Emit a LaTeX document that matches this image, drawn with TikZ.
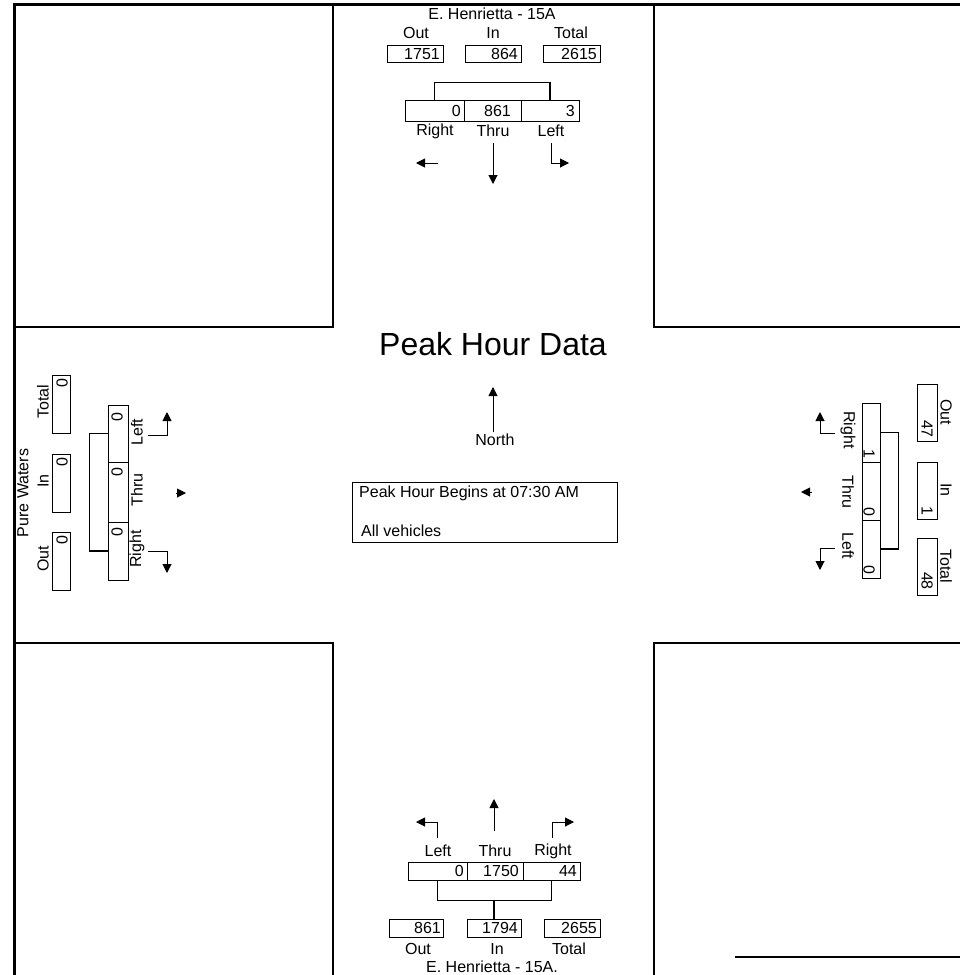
\documentclass[tikz,border=0pt]{standalone}
\usepackage{fontspec}
\setmainfont{Liberation Sans}
\usetikzlibrary{arrows.meta}
\begin{document}
\begin{tikzpicture}[x=1pt,y=-1pt,
  lbl/.style={font=\fontsize{16}{18}\selectfont, inner sep=0pt},
  big/.style={font=\fontsize{32}{36}\selectfont, inner sep=0pt},
  bx/.style={draw, line width=1pt, inner sep=0pt},
  road/.style={line width=1.2pt},
  frm/.style={line width=3pt},
  arr/.style={line width=1pt, -{Triangle[width=9pt,length=9pt]}}]
\useasboundingbox (0,0) rectangle (960,975);
% frame
\draw[frm] (14,975) -- (14,4) -- (960,4);
\draw[road] (735,957) -- (960,957);
% roads
\draw[road] (14,327) -- (333,327) -- (333,4);
\draw[road] (654,4) -- (654,327) -- (960,327);
\draw[road] (14,643) -- (333,643) -- (333,975);
\draw[road] (654,975) -- (654,643) -- (960,643);

% ===== North approach =====
\node[lbl] (tname) at (492,14) {E. Henrietta - 15A};
\node[lbl] (tOutL) at (416,33) {Out};
\node[lbl] (tInL) at (493,33) {In};
\node[lbl] (tTotL) at (571,33) {Total};
\node[bx, minimum width=56pt, minimum height=17pt] (tOut) at (415,53.5) {};
\node[bx, minimum width=56pt, minimum height=17pt] (tIn) at (493,53.5) {};
\node[bx, minimum width=57pt, minimum height=17pt] (tTot) at (571.5,53.5) {};
\node[lbl, anchor=east] (tOutN) at (440,54) {1751};
\node[lbl, anchor=east] (tInN) at (518,54) {864};
\node[lbl, anchor=east] (tTotN) at (597,54) {2615};
\node[bx, minimum width=59pt, minimum height=21pt] (tR) at (434.5,110.5) {};
\node[bx, minimum width=57pt, minimum height=21pt] (tT) at (492.5,110.5) {};
\node[bx, minimum width=58pt, minimum height=21pt] (tLf) at (550,110.5) {};
\node[lbl, anchor=east] (tRN) at (461,111) {0};
\node[lbl, anchor=east] (tTN) at (511,111) {861};
\node[lbl, anchor=east] (tLN) at (575,111) {3};
\node[lbl] (tRL) at (435,131) {Right};
\node[lbl] (tTL) at (493,131) {Thru};
\node[lbl] (tLL) at (551,131) {Left};
\draw[road] (tR.north) -- ++(0,-17) -| (tLf.north);
\coordinate (tRa1) at (438,163); \coordinate (tRa2) at (416,163);
\draw[arr] (tRa1) -- (tRa2);
\coordinate (tTa1) at (493,143); \coordinate (tTa2) at (493,184);
\draw[arr] (tTa1) -- (tTa2);
\coordinate (tLa1) at (551,143); \coordinate (tLa2) at (569,163);
\draw[arr] (tLa1) |- (tLa2);

% ===== South approach =====
\coordinate (bTa1) at (494,831); \coordinate (bTa2) at (494,799);
\draw[arr] (bTa1) -- (bTa2);
\coordinate (bLa1) at (437,838); \coordinate (bLa2) at (416,822);
\draw[arr] (bLa1) |- (bLa2);
\coordinate (bRa1) at (552,838); \coordinate (bRa2) at (574,822);
\draw[arr] (bRa1) |- (bRa2);
\node[lbl] (bLL) at (438,851) {Left};
\node[lbl] (bTL) at (495,851) {Thru};
\node[lbl] (bRL) at (553,851) {Right};
\node[bx, minimum width=59pt, minimum height=18pt] (bL) at (437.5,871) {};
\node[bx, minimum width=56pt, minimum height=18pt] (bT) at (495,871) {};
\node[bx, minimum width=57pt, minimum height=18pt] (bRt) at (551.5,871) {};
\node[lbl, anchor=east] (bLN) at (464,871) {0};
\node[lbl, anchor=east] (bTN) at (519,871) {1750};
\node[lbl, anchor=east] (bRN) at (577,871) {44};
\node[bx, minimum width=54pt, minimum height=18pt] (bOut) at (416,928) {};
\node[bx, minimum width=54pt, minimum height=18pt] (bIn) at (494,928) {};
\node[bx, minimum width=56pt, minimum height=18pt] (bTot) at (572,928) {};
\draw[road] (bL.south) -- ++(0,20) coordinate (bbr) -| (bRt.south);
\draw[road] (bIn.north) -- (bIn.north |- bbr);
\node[lbl, anchor=east] (bOutN) at (441,928) {861};
\node[lbl, anchor=east] (bInN) at (518,928) {1794};
\node[lbl, anchor=east] (bTotN) at (597,928) {2655};
\node[lbl] (bOutL) at (418,949) {Out};
\node[lbl] (bInL) at (497,949) {In};
\node[lbl] (bTotL) at (569,949) {Total};
\node[lbl] (bname) at (492,967) {E. Henrietta - 15A.};

% ===== West approach =====
\node[lbl, rotate=90] (wname) at (23,493) {Pure Waters};
\node[lbl, rotate=90] (wTotL) at (43,402) {Total};
\node[lbl, rotate=90] (wInL) at (43,481) {In};
\node[lbl, rotate=90] (wOutL) at (43,559) {Out};
\node[bx, minimum width=18pt, minimum height=58pt] (wTot) at (61,404) {};
\node[bx, minimum width=18pt, minimum height=58pt] (wIn) at (61,483) {};
\node[bx, minimum width=18pt, minimum height=58pt] (wOut) at (61,561) {};
\node[lbl, rotate=90, anchor=east] (wTotN) at (62,378) {0};
\node[lbl, rotate=90, anchor=east] (wInN) at (62,457) {0};
\node[lbl, rotate=90, anchor=east] (wOutN) at (62,535) {0};
\node[bx, minimum width=20pt, minimum height=57pt] (wLf) at (118,433.5) {};
\node[bx, minimum width=20pt, minimum height=60pt] (wT) at (118,492) {};
\node[bx, minimum width=20pt, minimum height=58pt] (wR) at (118,551) {};
\node[lbl, rotate=90, anchor=east] (wLN) at (117,412) {0};
\node[lbl, rotate=90, anchor=east] (wTN) at (117,467) {0};
\node[lbl, rotate=90, anchor=east] (wRN) at (117,527) {0};
\node[lbl, rotate=90] (wLL) at (137,432) {Left};
\node[lbl, rotate=90] (wTL) at (137,490) {Thru};
\node[lbl, rotate=90] (wRL) at (137,549) {Right};
\draw[road] (wLf.west) -- ++(-18,0) |- (wR.west);
\coordinate (wLa1) at (148,435); \coordinate (wLa2) at (167,412);
\draw[arr] (wLa1) -| (wLa2);
\coordinate (wTa1) at (176,493); \coordinate (wTa2) at (186,493);
\draw[arr] (wTa1) -- (wTa2);
\coordinate (wRa1) at (148,551); \coordinate (wRa2) at (167,573);
\draw[arr] (wRa1) -| (wRa2);

% ===== East approach =====
\node[lbl, rotate=-90] (eOutL) at (946,412) {Out};
\node[lbl, rotate=-90] (eInL) at (946,490) {In};
\node[lbl, rotate=-90] (eTotL) at (946,566) {Total};
\node[bx, minimum width=20pt, minimum height=57pt] (eOut) at (927,412.5) {};
\node[bx, minimum width=20pt, minimum height=57pt] (eIn) at (927,490.5) {};
\node[bx, minimum width=20pt, minimum height=57pt] (eTot) at (927,566.5) {};
\node[lbl, rotate=-90, anchor=east] (eOutN) at (927,438) {47};
\node[lbl, rotate=-90, anchor=east] (eInN) at (927,516) {1};
\node[lbl, rotate=-90, anchor=east] (eTotN) at (927,590) {48};
\node[bx, minimum width=18pt, minimum height=59pt] (eR) at (871,432.5) {};
\node[bx, minimum width=18pt, minimum height=58pt] (eT) at (871,491) {};
\node[bx, minimum width=18pt, minimum height=58pt] (eLf) at (871,549) {};
\node[lbl, rotate=-90, anchor=east] (eRN) at (869,459) {1};
\node[lbl, rotate=-90, anchor=east] (eTN) at (869,517) {0};
\node[lbl, rotate=-90, anchor=east] (eLN) at (869,575) {0};
\node[lbl, rotate=-90] (eRL) at (848,430) {Right};
\node[lbl, rotate=-90] (eTL) at (848,492) {Thru};
\node[lbl, rotate=-90] (eLL) at (848,546) {Left};
\draw[road] (eR.east) -- ++(18,0) |- (eLf.east);
\coordinate (eRa1) at (835,433); \coordinate (eRa2) at (820,412);
\draw[arr] (eRa1) -| (eRa2);
\coordinate (eTa1) at (812,492); \coordinate (eTa2) at (801,492);
\draw[arr] (eTa1) -- (eTa2);
\coordinate (eLa1) at (835,548); \coordinate (eLa2) at (820,570);
\draw[arr] (eLa1) -| (eLa2);

% ===== Centre =====
\node[big] (title) at (493,344) {Peak Hour Data};
\node[lbl] (north) at (495,440) {North};
\coordinate (nA) at (493,387);
\draw[arr] (north.north) ++(-2,-2) -- (nA);
\node[bx, minimum width=265pt, minimum height=60pt] (pbox) at (484.5,512) {};
\node[lbl, anchor=west] (pbeg) at (359,493) {Peak Hour Begins at 07:30 AM};
\node[lbl, anchor=west] (pveh) at (361,531) {All vehicles};
\end{tikzpicture}
\end{document}
